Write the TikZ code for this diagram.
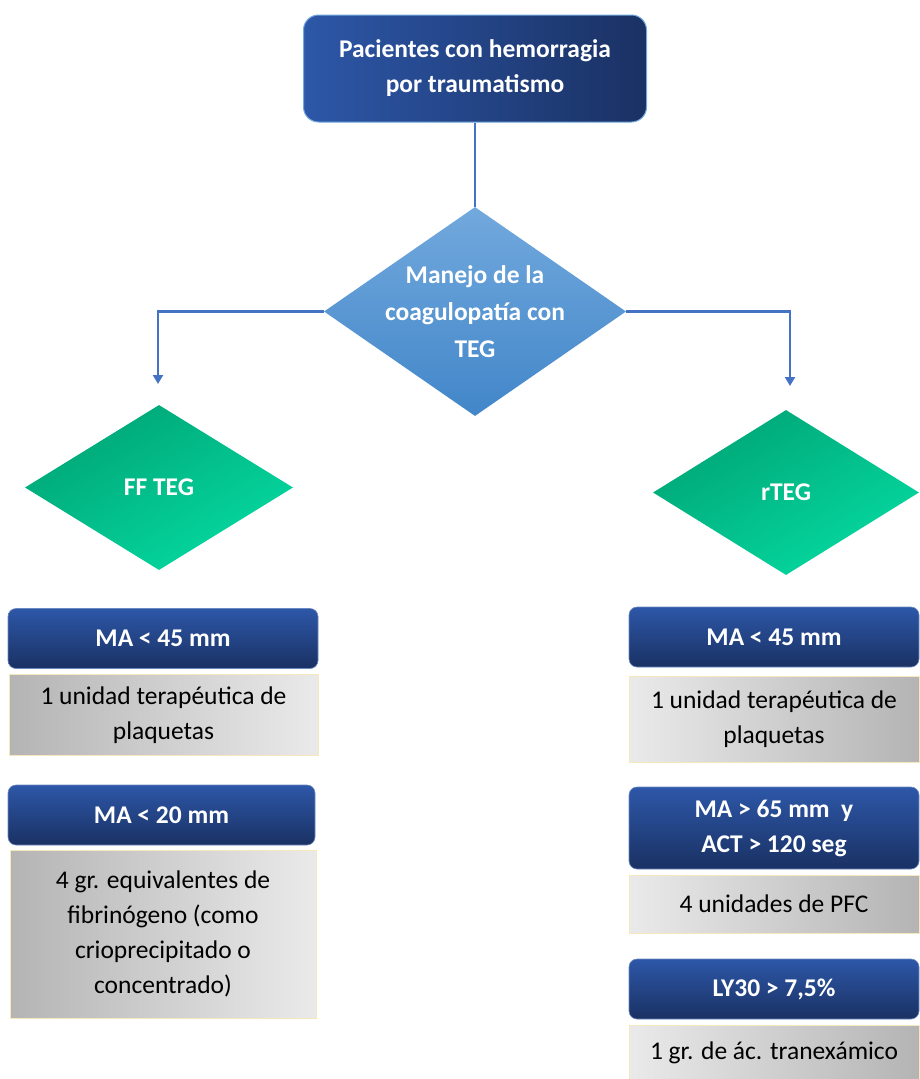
\documentclass[tikz,border=0pt]{standalone}
\usepackage{fontspec}
\setmainfont{Carlito}
\usetikzlibrary{shapes.geometric,arrows.meta}
\definecolor{hdrtop}{HTML}{2D57A8}
\definecolor{hdrbot}{HTML}{1A3163}
\definecolor{bluelight}{HTML}{72A9DD}
\definecolor{bluedark}{HTML}{4286C9}
\definecolor{greenlight}{HTML}{05D9A0}
\definecolor{greendark}{HTML}{00A576}
\definecolor{linkblue}{HTML}{4472C4}
\definecolor{greydark}{HTML}{B4B4B4}
\definecolor{greylight}{HTML}{EAEAEA}
\definecolor{paleedge}{HTML}{F6E7BC}
\tikzset{
  txt/.style={font=\fontsize{25.5}{35}\selectfont, align=center, inner sep=0pt},
  hdr/.style={txt, font=\fontsize{25.5}{35}\selectfont\bfseries, text=white,
    rounded corners=8pt, top color=hdrtop, bottom color=hdrbot,
    draw=hdrtop!70!white, line width=0.6pt},
  bodyl/.style={txt, left color=greydark, right color=greylight,
    draw=paleedge, line width=1pt},
  bodyr/.style={txt, left color=greylight, right color=greydark,
    draw=paleedge, line width=1pt},
  choice/.style={diamond, inner sep=0pt},
  choicetxt/.style={txt, font=\fontsize{25.5}{37}\selectfont\bfseries, text=white},
  conn/.style={draw=linkblue, line width=2.5pt},
}
\begin{document}
\begin{tikzpicture}[x=1pt,y=-1pt]
\useasboundingbox (0,0) rectangle (919,1079);

% top of the chart
\node[txt, font=\fontsize{25.5}{35}\selectfont\bfseries, text=white,
  rounded corners=15pt, left color=hdrtop, right color=hdrbot,
  draw=bluelight, line width=1pt, minimum width=343pt, minimum height=107pt]
  (pacientes) at (475,68.5) {Pacientes con hemorragia\\por traumatismo};

\node[choice, minimum width=302pt, minimum height=209pt,
  top color=bluelight, bottom color=bluedark] (manejo) at (475,311.5) {};
\node[choicetxt] (manejotxt) at (manejo.center) {Manejo de la\\coagulopatía con\\TEG};

\node[choice, minimum width=268pt, minimum height=165pt,
  top color=greenlight, bottom color=greendark, shading angle=-150] (ffteg) at (159,487.5) {};
\node[choicetxt] (fftegtxt) at (ffteg.center) {FF TEG};

\node[choice, minimum width=266pt, minimum height=165pt,
  top color=greenlight, bottom color=greendark, shading angle=-150] (rteg) at (786,492.5) {};
\node[choicetxt] (rtegtxt) at (rteg.center) {rTEG};

\coordinate (ffend) at (158,384);
\coordinate (rend) at (790,386);

\draw[conn] (pacientes.south) -- (manejo.north);
\draw[conn, -{Triangle[width=10pt,length=9pt]}] (manejo.west) -| (ffend);
\draw[conn, -{Triangle[width=10pt,length=9pt]}] (manejo.east) -| (rend);

% FF TEG column
\node[hdr, minimum width=310pt, minimum height=60pt] (ffma1) at (163,638.5) {MA < 45 mm};
\node[bodyl, minimum width=309pt, minimum height=81pt] (ffplaq) at (163.5,715)
  {1 unidad terapéutica de\\plaquetas};
\node[hdr, minimum width=307pt, minimum height=60pt] (ffma2) at (161.5,815) {MA < 20 mm};
\node[bodyl, minimum width=306pt, minimum height=168pt] (fffib) at (163,934)
  {4 gr. equivalentes de\\fibrinógeno (como\\crioprecipitado o\\concentrado)};

% rTEG column
\node[hdr, minimum width=290pt, minimum height=60pt] (rma1) at (774,637) {MA < 45 mm};
\node[bodyr, minimum width=290pt, minimum height=86pt] (rplaq) at (774,719)
  {1 unidad terapéutica de\\plaquetas};
\node[hdr, minimum width=290pt, minimum height=82pt] (rma2) at (774,828)
  {MA > 65 mm\ \ y\\ACT > 120 seg};
\node[bodyr, minimum width=290pt, minimum height=58pt] (rpfc) at (774,904)
  {4 unidades de PFC};
\node[hdr, minimum width=290pt, minimum height=60pt] (rly) at (774,989) {LY30 > 7,5\%};
\node[bodyr, minimum width=290pt, minimum height=56pt] (rtxa) at (774,1053)
  {1 gr. de ác. tranexámico};

\end{tikzpicture}
\end{document}
